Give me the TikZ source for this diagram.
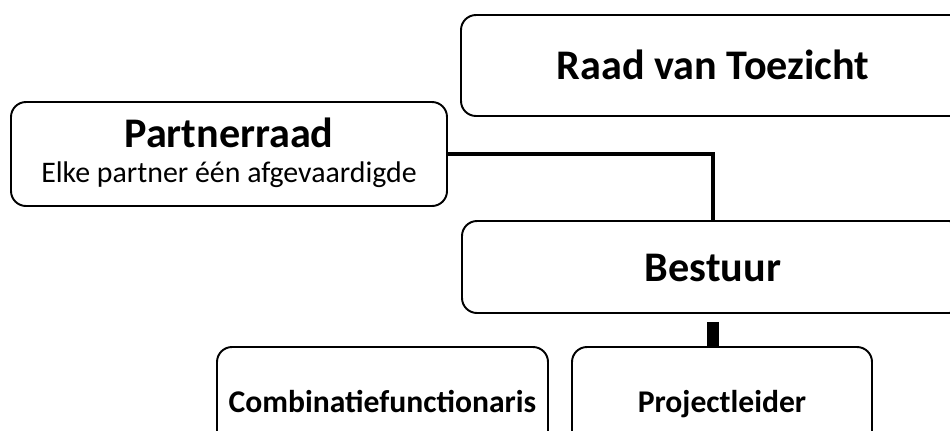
\documentclass[tikz,border=0pt]{standalone}
\usepackage{fontspec}
\setmainfont{Carlito}

\tikzset{
  orgbox/.style={draw, line width=1.1pt, rounded corners=0.3cm, align=center, inner sep=0pt},
  bigfont/.style={font=\fontsize{24}{28}\selectfont\bfseries, text height=16pt, text depth=0pt},
  smallfont/.style={font=\fontsize{18}{22}\selectfont\bfseries, text height=11.6pt, text depth=0pt},
  link/.style={line width=2.8pt},
  stub/.style={line width=6.5pt}
}

\begin{document}
\begin{tikzpicture}[x=0.02cm, y=-0.02cm]
	\useasboundingbox (0,0) rectangle (950,430);
	\clip (0,0) rectangle (950,430);

	\node[orgbox, bigfont, minimum width=504*0.02cm, minimum height=101*0.02cm] (rvt) at (713,65.5) {Raad van Toezicht};

	\node[orgbox, font=\fontsize{17}{19.9}\selectfont, minimum width=436*0.02cm, minimum height=104*0.02cm] (partner) at (229,154)
		{{\fontsize{24}{19.9}\selectfont\bfseries Partnerraad}\\
		 Elke partner één afgevaardigde\rule[-4pt]{0pt}{4pt}};

	\node[orgbox, bigfont, minimum width=502*0.02cm, minimum height=92*0.02cm] (bestuur) at (713,267) {Bestuur};

	\node[orgbox, smallfont, minimum width=331*0.02cm, minimum height=110*0.02cm] (combi) at (382.5,402) {Combinatiefunctionaris};
	\node[orgbox, smallfont, minimum width=300*0.02cm, minimum height=110*0.02cm] (projl) at (722,402) {Projectleider};

	\draw[link] (partner.east) -| (bestuur.north);
	\draw[stub] ([yshift=-0.16cm]bestuur.south) -- (bestuur.south |- projl.north);
\end{tikzpicture}
\end{document}
